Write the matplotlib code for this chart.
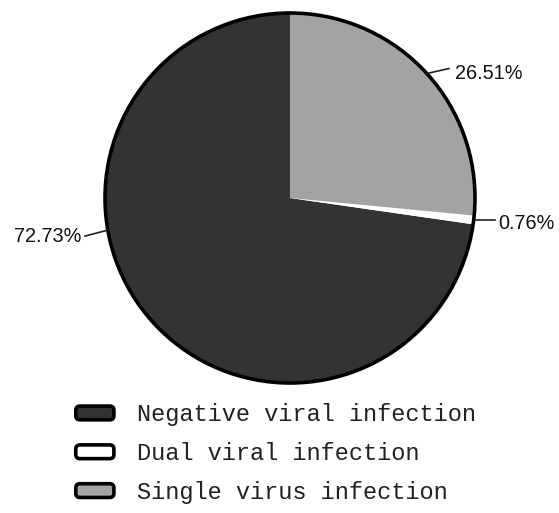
import numpy as np
import matplotlib
matplotlib.use("Agg")
import matplotlib.pyplot as plt
from matplotlib.patches import FancyBboxPatch, Circle
from matplotlib.legend_handler import HandlerBase

categories = ["Negative viral infection", "Dual viral infection", "Single virus infection"]
shares = [72.73, 0.76, 26.51]
value_labels = ["72.73%", "0.76%", "26.51%"]
colors = ["#333333", "#ffffff", "#a3a3a3"]

W, H = 559, 513
fig = plt.figure(figsize=(W / 100, H / 100), dpi=100)
ax = fig.add_axes([0, 0, 1, 1])

cx, cy, R = 290, H - 198, 185
wedges, _ = ax.pie(shares, colors=colors, startangle=90, counterclock=True,
                   center=(cx, cy), radius=R, frame=True,
                   wedgeprops=dict(linewidth=0, edgecolor="none"))
ax.set_xlim(0, W)
ax.set_ylim(0, H)
ax.set_aspect("equal")
ax.axis("off")
ax.add_patch(Circle((cx, cy), R, fill=False, edgecolor="black", linewidth=2.6, zorder=5))

# leader lines: anchor angle on the rim, leader offset, text gap, text alignment
anchor_angles = [190.0, None, None]
leader_offsets = [(-23, -6), (21, 0), (22, 5)]
text_gap = [3, 4, 6]
text_dy = [0, -4, -5]
aligns = ["right", "left", "left"]
for w, lab, ang, (dx, dy), gap, tdy, ha in zip(wedges, value_labels, anchor_angles,
                                               leader_offsets, text_gap, text_dy, aligns):
    a = np.deg2rad(ang if ang is not None else (w.theta1 + w.theta2) / 2)
    x0, y0 = cx + R * np.cos(a), cy + R * np.sin(a)
    x1, y1 = x0 + dx, y0 + dy
    ax.plot([x0, x1], [y0, y1], color="#222222", lw=1.2, zorder=6)
    tx = x1 + (gap if ha == "left" else -gap)
    ax.text(tx, y1 + tdy, lab, ha=ha, va="center", fontsize=14.3,
            family="Liberation Sans", color="#111111")


class RoundBoxHandler(HandlerBase):
    def create_artists(self, legend, orig, xdescent, ydescent, width, height, fontsize, trans):
        p = FancyBboxPatch((-xdescent + 2, -ydescent + 1), width - 4, height - 2,
                           boxstyle="round,pad=0,rounding_size=3",
                           facecolor=orig.get_facecolor(), edgecolor="black",
                           linewidth=2.6, transform=trans)
        return [p]


handles = [plt.Rectangle((0, 0), 1, 1, facecolor=c) for c in colors]
leg = fig.legend(handles, categories, loc="upper left", bbox_to_anchor=(0.1306, 0.214),
                 frameon=False, prop=dict(family="Liberation Mono", size=17),
                 handler_map={plt.Rectangle: RoundBoxHandler()},
                 handlelength=1.85, handleheight=0.7, handletextpad=0.85,
                 labelspacing=0.67, borderpad=0, borderaxespad=0)
for t in leg.get_texts():
    t.set_color("#222222")

fig.savefig("out.png", dpi=100)
